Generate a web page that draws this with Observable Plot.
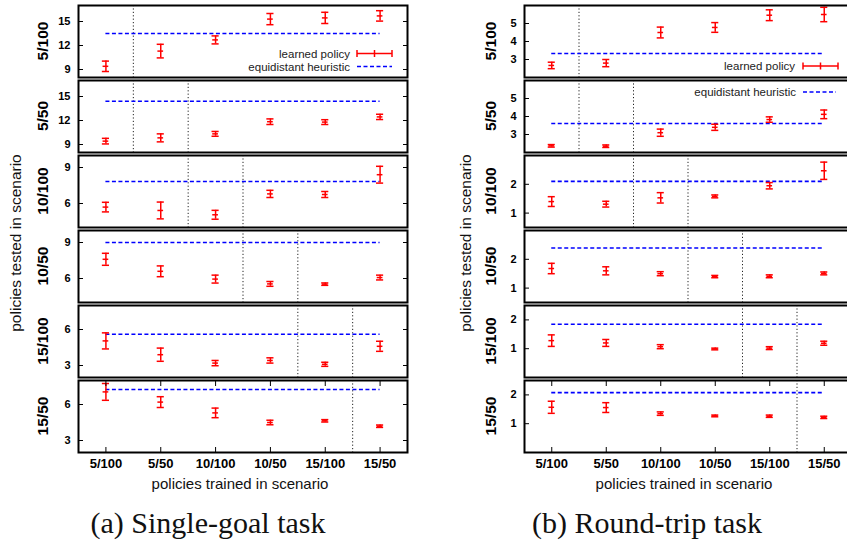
<!DOCTYPE html>
<html>
<head>
<meta charset="utf-8">
<script src="https://cdn.jsdelivr.net/npm/d3@7"></script>
<script src="https://cdn.jsdelivr.net/npm/@observablehq/plot@0.6"></script>
<style>
  html, body { margin: 0; padding: 0; background: #fff; }
  #wrap { position: relative; width: 847px; height: 545px; overflow: hidden; background: #fff; }
  #wrap > svg.sub { position: absolute; }
  #overlay { position: absolute; left: 0; top: 0; pointer-events: none; }
</style>
</head>
<body>
<div id="wrap"></div>
<script>
// ---------- data ----------
const scenarios = ["5/100", "5/50", "10/100", "10/50", "15/100", "15/50"];

// (a) Single-goal task: rows = tested scenario, columns = trained scenario
const singleMean = [
  [9.4, 11.3, 12.7, 15.3, 15.45, 15.7],
  [9.42, 9.83, 10.33, 11.85, 11.8, 12.45],
  [5.7, 5.42, 5.06, 6.8, 6.75, 8.4],
  [7.6, 6.6, 5.95, 5.55, 5.53, 6.08],
  [5.05, 3.9, 3.2, 3.42, 3.1, 4.6],
  [7.05, 6.2, 5.3, 4.5, 4.64, 4.19]
];
const singleErr = [
  [0.65, 0.85, 0.5, 0.7, 0.7, 0.65],
  [0.35, 0.5, 0.3, 0.35, 0.3, 0.33],
  [0.4, 0.7, 0.37, 0.3, 0.25, 0.7],
  [0.5, 0.45, 0.33, 0.2, 0.1, 0.2],
  [0.67, 0.55, 0.22, 0.22, 0.17, 0.42],
  [0.7, 0.45, 0.4, 0.19, 0.1, 0.1]
];
const singleHeuristic = [13.5, 14.4, 7.83, 9.0, 5.61, 7.25];
const singleDomains = [[8, 17], [8, 17], [4, 10], [4, 10], [2, 8], [2, 8]];
const singleTicks = [[9, 12, 15], [9, 12, 15], [6, 9], [6, 9], [3, 6], [3, 6]];

// (b) Round-trip task
const roundMean = [
  [2.67, 2.8, 4.5, 4.78, 5.46, 5.5],
  [2.37, 2.35, 3.1, 3.4, 3.83, 4.12],
  [1.4, 1.31, 1.53, 1.58, 1.95, 2.47],
  [1.68, 1.6, 1.5, 1.4, 1.41, 1.51],
  [1.28, 1.2, 1.07, 0.99, 1.02, 1.19],
  [1.57, 1.56, 1.35, 1.27, 1.26, 1.22]
];
const roundErr = [
  [0.18, 0.2, 0.3, 0.27, 0.3, 0.4],
  [0.07, 0.07, 0.2, 0.17, 0.15, 0.24],
  [0.17, 0.1, 0.18, 0.05, 0.11, 0.3],
  [0.18, 0.14, 0.07, 0.04, 0.05, 0.05],
  [0.2, 0.12, 0.07, 0.03, 0.05, 0.07],
  [0.21, 0.17, 0.06, 0.03, 0.04, 0.04]
];
const roundHeuristic = [3.33, 3.61, 2.1, 2.39, 1.85, 2.08];
const roundDomains = [[2, 6], [2, 6], [0.5, 3], [0.5, 3], [0, 2.5], [0, 2.5]];
const roundTicks = [[3, 4, 5], [3, 4, 5], [1, 2], [1, 2], [1, 2], [1, 2]];

const panels = [
  {mean: singleMean, err: singleErr, heur: singleHeuristic, domains: singleDomains, ticks: singleTicks,
   left: 0, marginLeft: 78, marginRight: 13, caption: "(a) Single-goal task"},
  {mean: roundMean, err: roundErr, heur: roundHeuristic, domains: roundDomains, ticks: roundTicks,
   left: 440, marginLeft: 84, marginRight: 9, caption: "(b) Round-trip task"}
];

// ---------- drawing ----------
const RED = "#ff0000", BLUE = "#0000ff";
const wrap = document.getElementById("wrap");
const W = 420, TOP = 5, STEP = 75, PH = 72;
const n = scenarios.length;
const idx = d3.range(n);
const cap = 0.065;
const fmt = d3.format("d");

panels.forEach((p, pi) => {
  p.mean.forEach((row, r) => {
    const pts = row.map((m, i) => ({i, mean: m, lo: m - p.err[r][i], hi: m + p.err[r][i]}));
    const bottom = r === n - 1;
    const mt = 2, mb = bottom ? 36 : 2;
    const marks = [
      Plot.ruleX([r - 0.5, r + 0.5], {stroke: "#222", strokeWidth: 1, strokeDasharray: "1.2,2.2"}),
      Plot.ruleY([p.heur[r]], {x1: 0, x2: n - 1, stroke: BLUE, strokeWidth: 1.6, strokeDasharray: "4,2.5"}),
      Plot.ruleX(pts, {x: "i", y1: "lo", y2: "hi", stroke: RED, strokeWidth: 1.5}),
      Plot.ruleY(pts, {y: "lo", x1: d => d.i - cap, x2: d => d.i + cap, stroke: RED, strokeWidth: 1.5}),
      Plot.ruleY(pts, {y: "hi", x1: d => d.i - cap, x2: d => d.i + cap, stroke: RED, strokeWidth: 1.5}),
      Plot.ruleY(pts, {y: "mean", x1: d => d.i - cap * 0.8, x2: d => d.i + cap * 0.8, stroke: RED, strokeWidth: 1.5}),
      Plot.axisY({ticks: p.ticks[r], tickFormat: fmt, tickSize: -5, tickPadding: 13, label: null, fontSize: 11, fontWeight: "bold"}),
      Plot.axisY({anchor: "right", ticks: p.ticks[r], tickSize: -5, tickFormat: () => "", label: null}),
      Plot.frame({stroke: "#000", strokeWidth: 2})
    ];
    if (bottom) {
      marks.push(Plot.axisX({ticks: idx, tickFormat: i => scenarios[i], tickSize: -5, tickPadding: 11,
                             label: null, fontSize: 13, fontWeight: "bold"}));
      marks.push(Plot.axisX({anchor: "top", ticks: idx, tickSize: -5, tickFormat: () => "", label: null}));
    }
    const chart = Plot.plot({
      width: W,
      height: PH + mt + mb,
      marginLeft: p.marginLeft,
      marginRight: p.marginRight,
      marginTop: mt,
      marginBottom: mb,
      x: {domain: [-0.5, n - 0.5], label: null, axis: bottom ? undefined : null},
      y: {domain: p.domains[r], label: null},
      style: {fontFamily: "'Liberation Sans', Arial, sans-serif", color: "#000", background: "transparent", overflow: "visible"},
      marks
    });
    chart.classList.add("sub");
    chart.style.left = p.left + "px";
    chart.style.top = (TOP + STEP * r - mt) + "px";
    chart.style.maxWidth = "none";
    wrap.appendChild(chart);
  });
});

// ---------- overlay text & legend ----------
const svg = d3.select(wrap).append("svg").attr("id", "overlay").attr("width", 847).attr("height", 545);
const sans = "'Liberation Sans', Arial, sans-serif";

panels.forEach((p, pi) => {
  const labX = pi === 0 ? 42 : 490;
  const titleX = pi === 0 ? 15 : 465;
  scenarios.forEach((s, r) => {
    const cy = TOP + STEP * r + PH / 2;
    svg.append("text").attr("transform", `translate(${labX},${cy}) rotate(-90)`)
      .attr("text-anchor", "middle").attr("dominant-baseline", "central")
      .attr("font-family", sans).attr("font-weight", "bold").attr("font-size", 15.5).text(s);
  });
  svg.append("text").attr("transform", `translate(${titleX},243) rotate(-90)`)
    .attr("text-anchor", "middle").attr("dominant-baseline", "central")
    .attr("font-family", sans).attr("font-size", 15.5).attr("fill", "#111").text("policies tested in scenario");
  svg.append("text").attr("x", pi === 0 ? 240 : 684).attr("y", 489)
    .attr("text-anchor", "middle").attr("font-family", sans).attr("font-size", 15).attr("fill", "#111")
    .text("policies trained in scenario");
  svg.append("text").attr("x", pi === 0 ? 208 : 647).attr("y", 533)
    .attr("text-anchor", "middle").attr("font-family", "'Liberation Serif', 'Times New Roman', serif")
    .attr("font-size", 30).attr("fill", "#111").text(p.caption);
});

function legendLearned(xText, xs, y) {
  svg.append("text").attr("x", xText).attr("y", y).attr("text-anchor", "end").attr("dominant-baseline", "central")
    .attr("font-family", sans).attr("font-size", 11.5).attr("fill", "#222").text("learned policy");
  const g = svg.append("g").attr("stroke", RED).attr("stroke-width", 1.5);
  g.append("line").attr("x1", xs[0]).attr("x2", xs[1]).attr("y1", y).attr("y2", y);
  [xs[0], (xs[0] + xs[1]) / 2, xs[1]].forEach(x =>
    g.append("line").attr("x1", x).attr("x2", x).attr("y1", y - 3.5).attr("y2", y + 3.5));
}
function legendHeur(xText, xs, y) {
  svg.append("text").attr("x", xText).attr("y", y).attr("text-anchor", "end").attr("dominant-baseline", "central")
    .attr("font-family", sans).attr("font-size", 11.5).attr("fill", "#222").text("equidistant heuristic");
  svg.append("line").attr("x1", xs[0]).attr("x2", xs[1]).attr("y1", y).attr("y2", y)
    .attr("stroke", BLUE).attr("stroke-width", 1.6).attr("stroke-dasharray", "4,2.5");
}
legendLearned(350, [357, 392], 53.5);
legendHeur(350, [357, 392], 66.5);
legendLearned(795, [803, 838], 66);
legendHeur(796, [803, 836], 92);
</script>
</body>
</html>
